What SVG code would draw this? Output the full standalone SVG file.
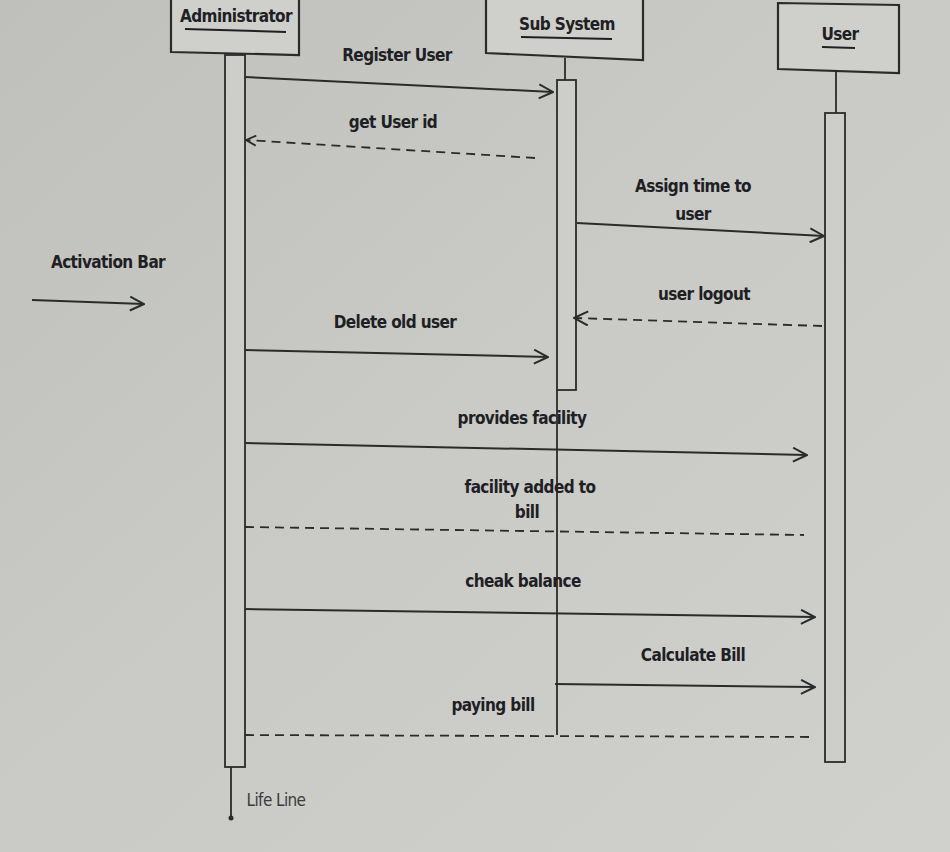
<svg xmlns="http://www.w3.org/2000/svg" width="950" height="852" viewBox="0 0 950 852">
<defs>
<linearGradient id="bg" x1="0" y1="0" x2="1" y2="1">
<stop offset="0" stop-color="#bfc0bb"/>
<stop offset="0.5" stop-color="#cacbc6"/>
<stop offset="1" stop-color="#d0d1cc"/>
</linearGradient>
<marker id="open" viewBox="0 0 12 12" refX="11" refY="6" markerWidth="12" markerHeight="12" markerUnits="userSpaceOnUse" orient="auto">
<path d="M1 1 L11 6 L1 11" fill="none" stroke="#2a2c2c" stroke-width="1.8"/>
</marker>
<marker id="openL" viewBox="0 0 16 16" refX="15" refY="8" markerWidth="16" markerHeight="16" markerUnits="userSpaceOnUse" orient="auto">
<path d="M1 1 L15 8 L1 15" fill="none" stroke="#2a2c2c" stroke-width="2"/>
</marker>
</defs>
<style>
text{font-family:"DejaVu Sans Condensed","DejaVu Sans",sans-serif;font-stretch:condensed;fill:#1e2024;font-size:17px;text-anchor:middle;font-weight:bold;letter-spacing:-0.6px}
.box{fill:#cfd0cb;stroke:#2a2c2c;stroke-width:2.2}
.bar{fill:#cdcec9;stroke:#2a2c2c;stroke-width:1.8}
.ln{stroke:#2a2c2c;stroke-width:1.8;fill:none}
.msg{stroke:#2a2c2c;stroke-width:2;fill:none}
.dash{stroke:#2a2c2c;stroke-width:1.8;fill:none;stroke-dasharray:9 6}
.ul{stroke:#1e2024;stroke-width:2}
.lt{font-weight:normal;fill:#3a3c40}
</style>
<rect width="950" height="852" fill="url(#bg)"/>

<g id="administrator">
<path class="box" d="M171 -4 L299 -2 L299 55 L171 52 Z"/>
<text x="236" y="22">Administrator</text>
<line class="ul" x1="185" y1="29" x2="286" y2="32"/>
<rect class="bar" x="225" y="55" width="20" height="712"/>
<line class="ln" x1="231" y1="767" x2="231" y2="818"/>
<circle cx="231" cy="818" r="2.5" fill="#2a2c2c"/>
</g>

<g id="subsystem">
<path class="box" d="M486 -4 L643 -2 L643 60 L486 53 Z"/>
<text x="567" y="30">Sub System</text>
<line class="ul" x1="521" y1="37" x2="612" y2="39"/>
<line class="ln" x1="565" y1="58" x2="565" y2="80"/>
<rect class="bar" x="557" y="80" width="19" height="310"/>
<line class="ln" x1="557" y1="390" x2="557" y2="735"/>
</g>

<g id="user">
<path class="box" d="M778 3 L899 5 L899 73 L778 69 Z"/>
<text x="840" y="40">User</text>
<line class="ul" x1="822" y1="47" x2="855" y2="48"/>
<line class="ln" x1="836" y1="72" x2="836" y2="113"/>
<rect class="bar" x="825" y="113" width="20" height="649"/>
</g>

<g id="legend">
<text x="108" y="268">Activation Bar</text>
<line class="msg" x1="32" y1="300" x2="144" y2="304" marker-end="url(#openL)"/>
<text class="lt" x="276" y="806">Life Line</text>
</g>

<g id="connectors">
<line class="msg" x1="245" y1="77" x2="553" y2="92" marker-end="url(#openL)"/>
<line class="dash" x1="535" y1="158" x2="246" y2="140" marker-end="url(#open)"/>
<line class="msg" x1="577" y1="223" x2="824" y2="236" marker-end="url(#openL)"/>
<line class="dash" x1="822" y1="326" x2="574" y2="318" marker-end="url(#openL)"/>
<line class="msg" x1="245" y1="350" x2="548" y2="357" marker-end="url(#openL)"/>
<line class="msg" x1="245" y1="443" x2="807" y2="455" marker-end="url(#openL)"/>
<line class="dash" x1="245" y1="527" x2="804" y2="535"/>
<line class="msg" x1="245" y1="609" x2="815" y2="617" marker-end="url(#openL)"/>
<line class="msg" x1="555" y1="684" x2="815" y2="687" marker-end="url(#openL)"/>
<line class="dash" x1="245" y1="735" x2="815" y2="737"/>
</g>

<g id="labels">
<text x="397" y="61">Register User</text>
<text x="393" y="128">get User id</text>
<text x="693" y="192">Assign time to</text>
<text x="693" y="220">user</text>
<text x="704" y="300">user logout</text>
<text x="395" y="328">Delete old user</text>
<text x="522" y="424">provides facility</text>
<text x="530" y="493">facility added to</text>
<text x="527" y="518">bill</text>
<text x="523" y="587">cheak balance</text>
<text x="693" y="661">Calculate Bill</text>
<text x="493" y="711">paying bill</text>
</g>
</svg>
